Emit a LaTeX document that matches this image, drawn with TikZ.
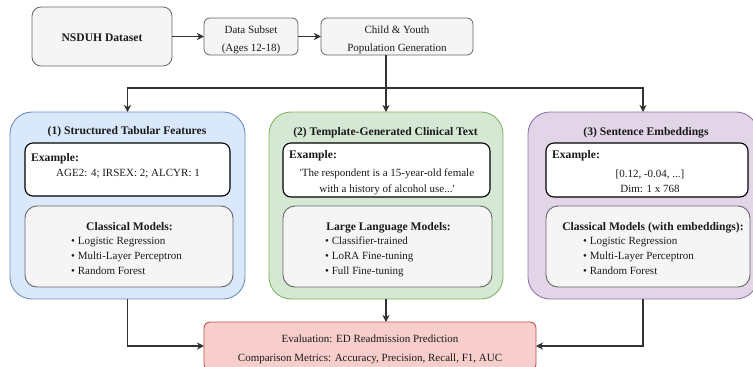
\documentclass[tikz,border=0pt]{standalone}
\usepackage{fontspec}
\setmainfont{Liberation Serif}
\usetikzlibrary{arrows.meta}
\definecolor{grayfill}{HTML}{F5F5F5}
\definecolor{graydraw}{HTML}{666666}
\definecolor{bluefill}{HTML}{DAE8FC}
\definecolor{bluedraw}{HTML}{6C8EBF}
\definecolor{greenfill}{HTML}{D5E8D4}
\definecolor{greendraw}{HTML}{82B366}
\definecolor{purplefill}{HTML}{E1D5E7}
\definecolor{purpledraw}{HTML}{9673A6}
\definecolor{redfill}{HTML}{F8CECC}
\definecolor{reddraw}{HTML}{B85450}
\definecolor{linecol}{HTML}{333333}
\definecolor{txtcol}{HTML}{1A1A1A}
\newcommand{\bt}[1]{{\fontsize{11.6}{15}\selectfont\bfseries #1}}
\begin{document}
\begin{tikzpicture}[x=1pt,y=-1pt,
  font=\fontsize{11}{15}\selectfont,
  box/.style={rectangle, inner sep=0pt, outer sep=0pt},
  topbox/.style={box, fill=grayfill, draw=graydraw, line width=0.8pt, rounded corners=6pt},
  panel/.style={box, line width=0.9pt, rounded corners=22pt},
  exbox/.style={box, fill=white, draw=black, line width=1.1pt, rounded corners=8pt},
  modbox/.style={box, fill=grayfill, draw=graydraw, line width=0.9pt, rounded corners=12pt},
  evalbox/.style={box, fill=redfill, draw=reddraw, line width=0.9pt, rounded corners=6pt},
  txt/.style={inner sep=0pt, anchor=base, text=txtcol},
  txtl/.style={inner sep=0pt, anchor=base west, text=txtcol},
  arr/.style={draw=linecol, line width=1.1pt, -{Stealth[length=7pt,width=7pt,inset=2pt]}}
]
\useasboundingbox (0,0) rectangle (753,367);
\clip (0,0) rectangle (753,367);

% top row
\node[topbox, rounded corners=9pt, minimum width=140pt, minimum height=59pt] (nsduh) at (102,36.5) {};
\node[txt] (nsduhT) at (102,41) {\bt{NSDUH Dataset}};
\node[topbox, minimum width=94pt, minimum height=37pt] (subset) at (251,36.5) {};
\node[txt] (subsetA) at (251,33) {Data Subset};
\node[txt] (subsetB) at (251,51) {(Ages 12-18)};
\node[topbox, minimum width=152pt, minimum height=37pt] (child) at (397,36.5) {};
\node[txt] (childA) at (397,33) {Child \& Youth};
\node[txt] (childB) at (397,51) {Population Generation};

% panels
\node[panel, fill=bluefill, draw=bluedraw, minimum width=235pt, minimum height=187pt] (p1) at (127.5,205.5) {};
\node[panel, fill=greenfill, draw=greendraw, minimum width=234pt, minimum height=187pt] (p2) at (386,205.5) {};
\node[panel, fill=purplefill, draw=purpledraw, minimum width=230pt, minimum height=187pt] (p3) at (643,205.5) {};

\node[txt] (p1T) at (127,134) {\bt{(1) Structured Tabular Features}};
\node[txt] (p2T) at (385.5,135) {\bt{(2) Template-Generated Clinical Text}};
\node[txt] (p3T) at (646,135) {\bt{(3) Sentence Embeddings}};

% example boxes
\node[exbox, minimum width=205pt, minimum height=53pt] (e1) at (127.5,169.5) {};
\node[txtl] (e1L) at (31,161) {\bt{Example:}};
\node[txt] (e1A) at (128,176) {AGE2: 4; IRSEX: 2; ALCYR: 1};

\node[exbox, minimum width=207pt, minimum height=54pt] (e2) at (386.5,170) {};
\node[txtl] (e2L) at (289,158) {\bt{Example:}};
\node[txt] (e2A) at (387,176) {\textquotesingle The respondent is a 15-year-old female};
\node[txt] (e2B) at (387,192) {with a history of alcohol use...\textquotesingle};

\node[exbox, minimum width=202pt, minimum height=54pt] (e3) at (647,170) {};
\node[txtl] (e3L) at (552,158) {\bt{Example:}};
\node[txt] (e3A) at (650,177) {[0.12, -0.04, ...]};
\node[txt] (e3B) at (650,192) {Dim: 1 x 768};

% model boxes
\node[modbox, minimum width=208pt, minimum height=81pt] (m1) at (129,246.5) {};
\node[txt] (m1H) at (129.5,230) {\bt{Classical Models:}};
\node[txtl] (m1a) at (71,244) {• Logistic Regression};
\node[txtl] (m1b) at (71,259) {• Multi-Layer Perceptron};
\node[txtl] (m1c) at (71,274) {• Random Forest};

\node[modbox, minimum width=209pt, minimum height=81pt] (m2) at (387.5,246.5) {};
\node[txt] (m2H) at (388.5,230) {\bt{Large Language Models:}};
\node[txtl] (m2a) at (325,244) {• Classifier-trained};
\node[txtl] (m2b) at (325,259) {• LoRA Fine-tuning};
\node[txtl] (m2c) at (325,274) {• Full Fine-tuning};

\node[modbox, minimum width=204pt, minimum height=81pt] (m3) at (648,246.5) {};
\node[txt] (m3H) at (653,230) {\bt{Classical Models (with embeddings):}};
\node[txtl] (m3a) at (583,244) {• Logistic Regression};
\node[txtl] (m3b) at (583,259) {• Multi-Layer Perceptron};
\node[txtl] (m3c) at (583,274) {• Random Forest};

% evaluation
\node[evalbox, minimum width=332pt, minimum height=48pt] (eval) at (370,346) {};
\node[txt] (evalA) at (370,342) {Evaluation: ED Readmission Prediction};
\node[txt] (evalB) at (370,361) {Comparison Metrics: Accuracy, Precision, Recall, F1, AUC};

% connectors
\coordinate (split) at (386,88);
\draw[arr] (nsduh) -- (subset);
\draw[arr] (subset) -- (child);
\draw[arr] (p2.north |- child.south) -- (p2.north);
\draw[arr] (split) -| (p1.north);
\draw[arr] (split) -| (p3.north);
\draw[arr] (p1.south) |- (eval.west);
\draw[arr] (p3.south) |- (eval.east);
\draw[arr] (p2.south) -- (p2.south |- eval.north);
\end{tikzpicture}
\end{document}
